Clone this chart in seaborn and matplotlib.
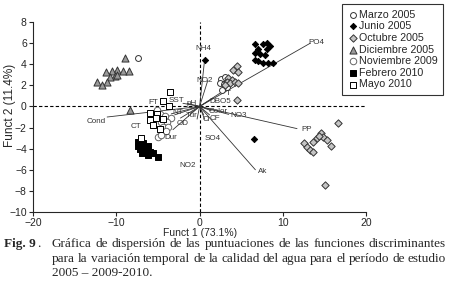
import matplotlib
matplotlib.use("Agg")
import matplotlib.pyplot as plt
import numpy as np
import pandas as pd
import seaborn as sns

sns.set_style("ticks")
plt.rcParams.update({'font.family': ['Liberation Sans', 'DejaVu Sans'],
                     'font.size': 7.5,
                     'axes.linewidth': 0.8,
                     'xtick.labelsize': 7.5,
                     'ytick.labelsize': 7.5})

# discriminant scores by sampling period
periods = ['Marzo 2005', 'Junio 2005', 'Octubre 2005', 'Diciembre 2005',
           'Noviembre 2009', 'Febrero 2010', 'Mayo 2010']

marzo_x = [2.6, 3.0, 2.4, 2.9, 3.3, 2.7, -7.4]
marzo_y = [2.6, 2.8, 2.2, 2.1, 1.8, 1.6, 4.6]
junio_x = [6.7, 7.6, 8.1, 8.5, 7.0, 8.1, 6.7, 7.3, 7.9, 6.7, 7.0, 7.6, 8.2, 8.8, 0.6, 6.5]
junio_y = [5.9, 5.9, 6.0, 5.7, 5.4, 5.4, 5.1, 5.0, 4.9, 4.4, 4.3, 4.1, 4.1, 4.1, 4.4, -3.1]
octubre_x = [4.5, 4.0, 4.6, 3.4, 3.9, 3.3, 3.7, 4.3, 4.6, 3.1, 4.5,
             16.6, 14.6, 14.8, 15.3, 14.1, 13.6, 12.5, 12.9, 13.3, 13.6, 15.8, 15.0, 14.3]
octubre_y = [3.8, 3.5, 3.3, 2.7, 2.5, 2.3, 2.2, 2.3, 2.2, 2.0, 0.6,
             -1.6, -2.5, -2.9, -3.2, -3.0, -3.4, -3.5, -3.8, -4.1, -4.3, -3.7, -7.4, -2.8]
diciembre_x = [-8.9, -9.9, -10.5, -11.2, -9.2, -8.5, -10.2, -10.8, -9.9, -11.1, -12.3, -11.7, -8.4]
diciembre_y = [4.6, 3.5, 3.4, 3.3, 3.4, 3.4, 2.9, 2.8, 3.0, 2.3, 2.3, 2.0, -0.35]
noviembre_x = [-5.1, -4.7, -4.1, -3.4, -4.6, -3.9, -4.4, -3.8, -4.6, -4.0, -5.0, -4.6]
noviembre_y = [-0.3, -0.7, -0.9, -1.1, -1.5, -1.5, -1.9, -1.9, -2.4, -2.3, -2.9, -2.7]
febrero_x = [-7.4, -6.8, -6.2, -7.4, -7.1, -6.5, -5.9, -6.9, -6.2, -5.6, -6.6, -5.0]
febrero_y = [-3.4, -3.5, -3.7, -3.7, -4.0, -4.1, -4.3, -4.4, -4.6, -4.4, -3.9, -4.8]
mayo_x = [-3.6, -4.4, -3.7, -6.0, -5.1, -6.0, -5.2, -5.6, -4.4, -4.7, -7.0]
mayo_y = [1.4, 0.5, 0.0, -0.6, -0.7, -1.3, -1.1, -1.8, -1.2, -2.1, -3.0]

# structure vectors (end point) and where their names sit
vec_names = ['NH4', 'NO2', 'PO4', 'T', 'DBO5', 'NO3', 'PP', 'Ak', 'SO4', 'Color', 'Cl', 'CF',
             'Cond', 'CT', 'FT', 'SST', 'pH', 'NT', 'Tur', 'OD', 'Dur', 'NO2']
vec_x = [0.6, 1.0, 13.3, 3.7, 1.6, 3.5, 11.7, 6.7, 0.6, 1.4, 0.5, 1.2,
         -11.1, -3.0, -2.0, -1.5, -0.5, -3.4, -1.0, -2.3, -3.2, -0.3]
vec_y = [4.4, 2.5, 6.0, 1.9, 0.8, -0.75, -2.1, -6.0, -1.2, -0.4, -0.8, -0.8,
         -1.0, -0.8, 0.3, 0.3, 0.1, -0.7, -0.6, -1.1, -2.2, -1.2]
lab_x = [0.5, 0.6, 14.0, 3.5, 2.5, 4.7, 12.8, 7.6, 1.6, 2.2, 0.8, 1.9,
         -12.4, -7.6, -5.5, -2.8, -0.9, -2.6, -0.9, -2.0, -3.5, -1.4]
lab_y = [5.5, 2.5, 6.1, 1.2, 0.45, -0.85, -2.2, -6.2, -3.0, -0.5, -1.25, -1.1,
         -1.4, -1.9, 0.4, 0.55, 0.25, -0.6, -0.9, -1.6, -2.9, -5.6]

groups = {
    'Marzo 2005': (marzo_x, marzo_y),
    'Junio 2005': (junio_x, junio_y),
    'Octubre 2005': (octubre_x, octubre_y),
    'Diciembre 2005': (diciembre_x, diciembre_y),
    'Noviembre 2009': (noviembre_x, noviembre_y),
    'Febrero 2010': (febrero_x, febrero_y),
    'Mayo 2010': (mayo_x, mayo_y),
}
df = pd.concat([pd.DataFrame({'period': p, 'f1': groups[p][0], 'f2': groups[p][1]}) for p in periods])

styles = {
    'Marzo 2005':     dict(marker='o', color='white', edgecolor='#333333', s=18),
    'Junio 2005':     dict(marker='D', color='black', edgecolor='black', s=10),
    'Octubre 2005':   dict(marker='D', color='#c4c4c4', edgecolor='#333333', s=14),
    'Diciembre 2005': dict(marker='^', color='#9a9a9a', edgecolor='#333333', s=26),
    'Noviembre 2009': dict(marker='o', color='white', edgecolor='#666666', s=22),
    'Febrero 2010':   dict(marker='s', color='black', edgecolor='black', s=20),
    'Mayo 2010':      dict(marker='s', color='white', edgecolor='black', s=20),
}

fig = plt.figure(figsize=(4.49, 2.90), dpi=100)
ax = fig.add_axes([0.0735, 0.269, 0.742, 0.655])

ax.axvline(0, color='black', lw=0.8, ls=(0, (3, 2)), zorder=1)
ax.axhline(0, color='black', lw=0.8, ls=(0, (3, 2)), zorder=1)

for i, name in enumerate(vec_names):
    ax.plot([0, vec_x[i]], [0, vec_y[i]], color='#333333', lw=0.6, zorder=2)
    ax.text(lab_x[i], lab_y[i], name, fontsize=5.8, color='#333333',
            ha='center', va='center', zorder=4)

for p in periods:
    st = styles[p]
    sns.scatterplot(data=df[df.period == p], x='f1', y='f2', ax=ax, label=p,
                    marker=st['marker'], color=st['color'], edgecolor=st['edgecolor'],
                    s=st['s'], linewidth=0.7, zorder=3)

ax.set_xlim(-20, 20)
ax.set_ylim(-10, 8)
ax.set_xticks([-20, -10, 0, 10, 20])
ax.set_yticks(np.arange(-10, 9, 2))
ax.tick_params(length=3, width=0.8, pad=1.5)
sns.despine(ax=ax)
ax.set_xlabel('Funct 1 (73.1%)', fontsize=7.5, labelpad=0)
ax.set_ylabel('Funct 2 (11.4%)', fontsize=8.5)
ax.yaxis.set_label_coords(-0.052, 0.56)

leg = ax.legend(loc='upper left', bbox_to_anchor=(0.762, 0.985), bbox_transform=fig.transFigure,
                fontsize=7.7, frameon=True, fancybox=False, edgecolor='black',
                handletextpad=0.1, handlelength=1.0, labelspacing=0.15, borderpad=0.5,
                borderaxespad=0)
leg.get_frame().set_linewidth(0.8)


def justified(text, x0, x1, y, **kw):
    words = text.split()
    objs = [fig.text(0, y, w, va='baseline', **kw) for w in words]
    r = fig.canvas.get_renderer()
    widths = [o.get_window_extent(r).width for o in objs]
    W = fig.bbox.width
    gap = ((x1 - x0) * W - sum(widths)) / max(len(words) - 1, 1)
    pos = x0 * W
    for o, w in zip(objs, widths):
        o.set_x(pos / W)
        pos += w + gap


cap = dict(family=['Liberation Serif', 'DejaVu Serif'], fontsize=9.5)
fig.text(4 / 449, 1 - 247 / 290, 'Fig. 9', va='baseline', fontweight='bold', **cap)
fig.text(37 / 449, 1 - 247 / 290, '.', va='baseline', **cap)
justified('Gráfica de dispersión de las puntuaciones de las funciones discriminantes',
          52 / 449, 446 / 449, 1 - 247 / 290, **cap)
justified('para la variación temporal de la calidad del agua para el período de estudio',
          52 / 449, 446 / 449, 1 - 262 / 290, **cap)
fig.text(52 / 449, 1 - 276 / 290, '2005 – 2009-2010.', va='baseline', **cap)

fig.savefig('out.png', dpi=100)
